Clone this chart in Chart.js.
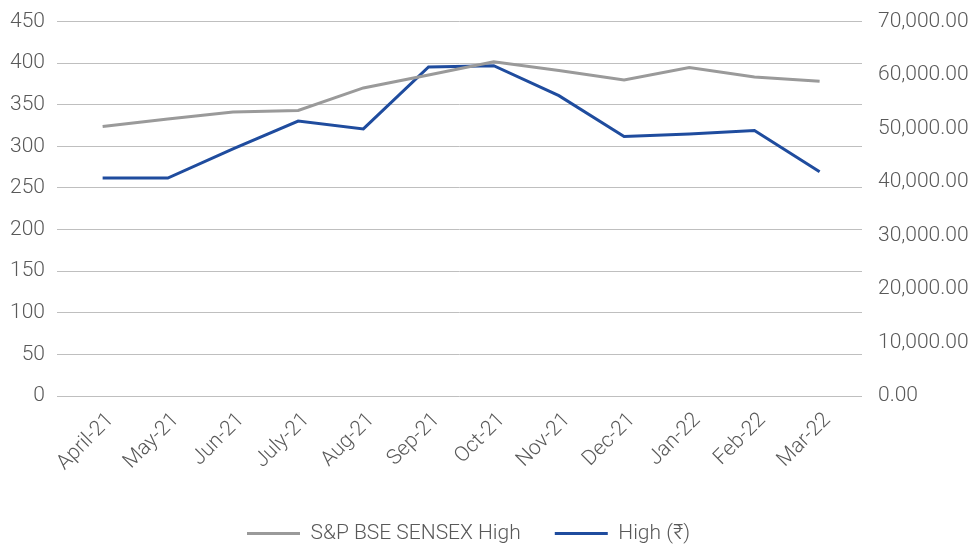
<!DOCTYPE html>
<html>
<head>
<meta charset="utf-8">
<script src="https://cdn.jsdelivr.net/npm/chart.js@4.4.1/dist/chart.umd.min.js"></script>
<style>
    html, body { margin: 0; padding: 0; background: #ffffff; }
    #wrap { width: 972px; height: 544px; }
</style>
</head>
<body>
<div id="wrap"><canvas id="priceChart" width="972" height="544"></canvas></div>
<script>
// Months of the financial year
var months = ['April-21', 'May-21', 'Jun-21', 'July-21', 'Aug-21', 'Sep-21',
              'Oct-21', 'Nov-21', 'Dec-21', 'Jan-22', 'Feb-22', 'Mar-22'];

// Monthly high of the BSE SENSEX (right axis)
var sensexHigh = [50400, 51800, 53100, 53400, 57600, 60000,
                  62500, 60850, 59100, 61400, 59650, 58850];

// Monthly high share price in rupees (left axis)
var shareHigh = [262, 262, 297, 330.5, 321, 395.5,
                 397, 361, 312, 315, 319, 269.5];

var textColor = '#595959';
var gridColor = '#bfbfbf';
var font = { family: 'Roboto', size: 21, weight: '300' };

// Function to turn a list of values into {x, y} points by month index
function toPoints(values) {
    return values.map(function(v, i) {
        return { x: i, y: v };
    });
}

// Nudge the legend a little left of the canvas centre
var legendShift = {
    id: 'legendShift',
    afterLayout: function(chart) {
        chart.legend.left -= 17.5;
        chart.legend.right -= 17.5;
    }
};

var ctx = document.getElementById('priceChart').getContext('2d');
var chart = new Chart(ctx, {
    type: 'line',
    data: {
        datasets: [{
            label: 'S&P BSE SENSEX High',
            data: toPoints(sensexHigh),
            yAxisID: 'yRight',
            borderColor: '#9a9a9a',
            backgroundColor: '#9a9a9a',
            borderWidth: 3,
            pointRadius: 0,
            tension: 0
        }, {
            label: 'High (₹)',
            data: toPoints(shareHigh),
            yAxisID: 'yLeft',
            borderColor: '#1f4c9e',
            backgroundColor: '#1f4c9e',
            borderWidth: 3,
            pointRadius: 0,
            tension: 0
        }]
    },
    plugins: [legendShift],
    options: {
        responsive: false,
        animation: false,
        layout: { padding: { top: 12, left: 0, right: 0, bottom: -10 } },
        plugins: {
            tooltip: { enabled: false },
            legend: {
                position: 'bottom',
                labels: {
                    usePointStyle: true,
                    pointStyle: 'line',
                    pointStyleWidth: 53,
                    boxHeight: 21,
                    padding: 34,
                    color: textColor,
                    font: font
                }
            }
        },
        scales: {
            x: {
                type: 'linear',
                min: -0.7,
                max: 11.65,
                grid: { display: false },
                border: { display: false },
                afterFit: function(scale) { scale.height = 93; },
                ticks: {
                    stepSize: 1,
                    includeBounds: false,
                    autoSkip: false,
                    minRotation: 45,
                    maxRotation: 45,
                    padding: 4,
                    labelOffset: 8,
                    color: textColor,
                    font: font,
                    callback: function(value) {
                        return Number.isInteger(value) ? months[value] : '';
                    }
                }
            },
            yLeft: {
                position: 'left',
                min: 0,
                max: 450,
                afterFit: function(scale) { scale.width = 57; },
                grid: {
                    color: gridColor,
                    lineWidth: 1,
                    drawTicks: true,
                    tickLength: 5,
                    tickColor: 'rgba(0,0,0,0)'
                },
                border: { display: false },
                ticks: {
                    stepSize: 50,
                    padding: 7,
                    color: textColor,
                    font: font
                }
            },
            yRight: {
                position: 'right',
                min: 0,
                max: 70000,
                afterFit: function(scale) { scale.width = 110; },
                grid: { display: false, drawTicks: true, tickLength: 7 },
                border: { display: false },
                ticks: {
                    stepSize: 10000,
                    padding: 9,
                    color: textColor,
                    font: font,
                    callback: function(value) {
                        return value.toLocaleString('en-US', { minimumFractionDigits: 2, maximumFractionDigits: 2 });
                    }
                }
            }
        }
    }
});
</script>
</body>
</html>
